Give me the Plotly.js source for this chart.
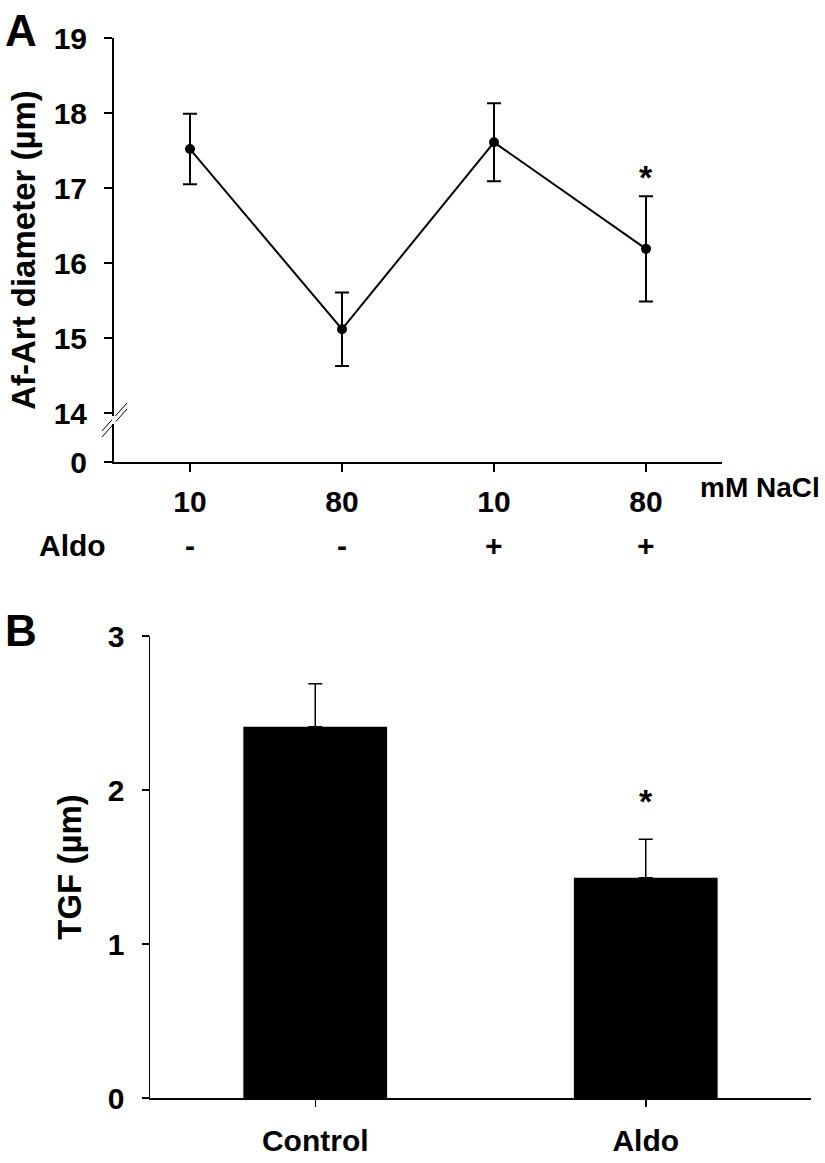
<!DOCTYPE html>
<html>
<head>
<meta charset="utf-8">
<script src="https://cdn.plot.ly/plotly-3.0.1.min.js"></script>
<style>html,body{margin:0;padding:0;background:#fff;}#chart{width:825px;height:1163px;}</style>
</head>
<body>
<div id="chart"></div>
<script>
// Panel A data
const naclLabels = ['10', '80', '10', '80'];
const aldoLabels = ['-', '-', '+', '+'];
const diameter = [17.52, 15.12, 17.61, 16.19];
const diameterErr = [0.47, 0.49, 0.52, 0.70];
const diameterTicks = [14, 15, 16, 17, 18, 19];

// Panel B data
const tgfGroups = ['Control', 'Aldo'];
const tgf = [2.41, 1.43];
const tgfErr = [0.28, 0.25];

const FONT = 'Liberation Sans, Arial, sans-serif';
const BLACK = '#000';

// broken axis: bottom of panel A axis shows "0"
const breakBase = 13.35;
const idxA = naclLabels.map((_, i) => i);
const idxB = tgfGroups.map((_, i) => i);

const traceA = {
  x: idxA, y: diameter, type: 'scatter', mode: 'lines+markers',
  xaxis: 'x', yaxis: 'y',
  line: {color: BLACK, width: 2},
  marker: {color: BLACK, size: 10},
  error_y: {type: 'data', array: diameterErr, visible: true, color: BLACK, thickness: 2, width: 7},
  hoverinfo: 'skip', showlegend: false
};

const traceB = {
  x: idxB, y: tgf, type: 'bar',
  xaxis: 'x2', yaxis: 'y2',
  width: 0.435,
  marker: {color: BLACK, line: {width: 0}},
  error_y: {type: 'data', symmetric: false, array: tgfErr, arrayminus: tgfErr.map(() => 0), visible: true, color: BLACK, thickness: 1.5, width: 7},
  hoverinfo: 'skip', showlegend: false
};

const yTickFont = {family: FONT, size: 30, color: BLACK, weight: 'bold'};
const xTickFont = {family: FONT, size: 30, color: BLACK, weight: 'bold'};
const titleFont = {family: FONT, size: 33, color: BLACK, weight: 'bold'};

const W = 825, H = 1163;
const px = v => v / W, py = v => 1 - v / H;

const annotations = [];
aldoLabels.forEach((t, i) => annotations.push({
  x: i, xref: 'x', y: py(545), yref: 'paper', text: '<b>' + t + '</b>', showarrow: false,
  font: {family: FONT, size: 30, color: BLACK}, xanchor: 'center', yanchor: 'middle'
}));
annotations.push({x: px(108), xref: 'paper', y: py(545), yref: 'paper', text: '<b>Aldo</b>', showarrow: false,
  font: {family: FONT, size: 30, color: BLACK}, xanchor: 'right', yanchor: 'middle'});
annotations.push({x: px(822), xref: 'paper', y: py(487), yref: 'paper', text: '<b>mM NaCl</b>', showarrow: false,
  font: {family: FONT, size: 28, color: BLACK}, xanchor: 'right', yanchor: 'middle'});
annotations.push({x: 3, xref: 'x', y: 17.15, yref: 'y', text: '<b>*</b>', showarrow: false,
  font: {family: FONT, size: 34, color: BLACK}, xanchor: 'center', yanchor: 'middle'});
annotations.push({x: 1, xref: 'x2', y: 1.93, yref: 'y2', text: '<b>*</b>', showarrow: false,
  font: {family: FONT, size: 34, color: BLACK}, xanchor: 'center', yanchor: 'middle'});
annotations.push({x: px(3), xref: 'paper', y: py(30), yref: 'paper', text: '<b>A</b>', showarrow: false,
  font: {family: FONT, size: 44, color: BLACK}, xanchor: 'left', yanchor: 'middle'});
annotations.push({x: px(3), xref: 'paper', y: py(630), yref: 'paper', text: '<b>B</b>', showarrow: false,
  font: {family: FONT, size: 44, color: BLACK}, xanchor: 'left', yanchor: 'middle'});

const shapes = [
  // axis break marks on panel A y axis
  {type: 'line', xref: 'paper', yref: 'paper', x0: px(102), y0: py(431), x1: px(127), y1: py(403), line: {color: BLACK, width: 1}},
  {type: 'line', xref: 'paper', yref: 'paper', x0: px(102), y0: py(437), x1: px(127), y1: py(409), line: {color: BLACK, width: 1}},
  {type: 'line', xref: 'paper', yref: 'paper', x0: px(114), y0: py(416), x1: px(114), y1: py(424), line: {color: '#fff', width: 4}}
];

const layout = {
  width: W, height: H,
  margin: {l: 0, r: 0, t: 0, b: 0},
  paper_bgcolor: '#fff', plot_bgcolor: '#fff',
  xaxis: {
    domain: [px(114), px(722)], range: [-0.5, 3.5], anchor: 'y',
    tickmode: 'array', tickvals: idxA, ticktext: naclLabels,
    showline: true, linecolor: BLACK, linewidth: 2,
    ticks: 'outside', ticklen: 8, tickwidth: 2, tickcolor: BLACK,
    showgrid: false, zeroline: false, tickfont: xTickFont, ticklabelstandoff: 4,
    fixedrange: true
  },
  yaxis: {
    domain: [py(462), py(38)], range: [breakBase, 19], anchor: 'x',
    tickmode: 'array', tickvals: [breakBase].concat(diameterTicks), ticktext: ['0'].concat(diameterTicks.map(String)),
    showline: true, linecolor: BLACK, linewidth: 2,
    ticks: 'outside', ticklen: 8, tickwidth: 2, tickcolor: BLACK,
    showgrid: false, zeroline: false, tickfont: yTickFont, ticklabelstandoff: 11,
    title: {text: 'Af-Art diameter (µm)', font: titleFont, standoff: 8},
    fixedrange: true
  },
  xaxis2: {
    domain: [px(150), px(811)], range: [-0.5, 1.5], anchor: 'y2',
    tickmode: 'array', tickvals: idxB, ticktext: tgfGroups,
    showline: true, linecolor: BLACK, linewidth: 2,
    ticks: 'outside', ticklen: 7, tickwidth: 1.5, tickcolor: BLACK,
    showgrid: false, zeroline: false, tickfont: xTickFont, ticklabelstandoff: 8,
    fixedrange: true
  },
  yaxis2: {
    domain: [py(1098), py(636)], range: [0, 3], anchor: 'x2',
    tickmode: 'array', tickvals: [0, 1, 2, 3],
    showline: true, linecolor: BLACK, linewidth: 1.5,
    ticks: 'outside', ticklen: 7, tickwidth: 1.5, tickcolor: BLACK,
    showgrid: false, zeroline: false, tickfont: yTickFont, ticklabelstandoff: 11,
    title: {text: 'TGF (µm)', font: titleFont, standoff: 16},
    fixedrange: true
  },
  annotations: annotations,
  shapes: shapes
};

Plotly.newPlot('chart', [traceA, traceB], layout, {displayModeBar: false, staticPlot: true});
</script>
</body>
</html>
